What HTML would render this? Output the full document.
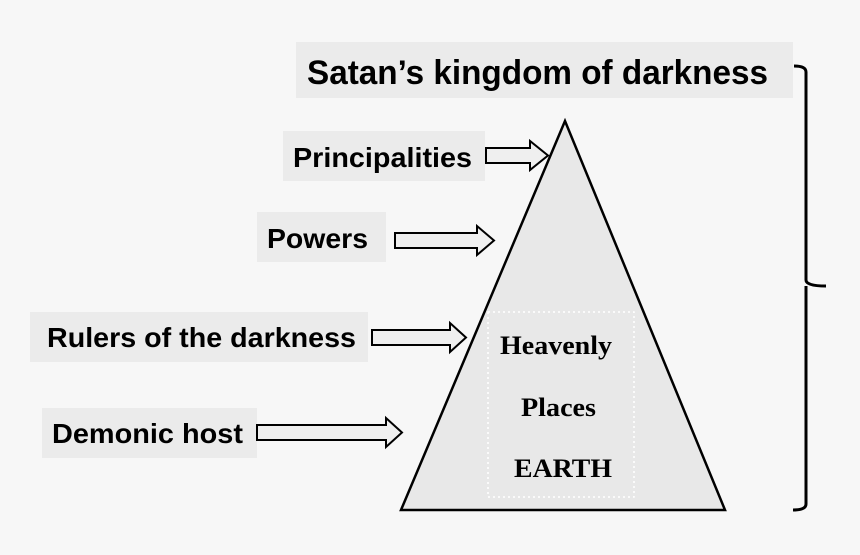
<!DOCTYPE html>
<html><head><meta charset="utf-8"><style>html,body{margin:0;padding:0;background:#f7f7f7}svg{display:block}</style></head>
<body>
<svg width="860" height="555" viewBox="0 0 860 555" xmlns="http://www.w3.org/2000/svg">
<rect width="860" height="555" fill="#f7f7f7"/>
<g fill="#ebebeb">
<rect x="296" y="42" width="497" height="56"/>
<rect x="283" y="131" width="202" height="50"/>
<rect x="257" y="212" width="129" height="50"/>
<rect x="30" y="312" width="338" height="50"/>
<rect x="42" y="408" width="215" height="50"/>
</g>
<polygon points="565,121 401,510 725,510" fill="#e8e8e8" stroke="#000" stroke-width="2.5" stroke-linejoin="miter"/>
<rect x="488" y="312" width="146" height="185" fill="none" stroke="#fff" stroke-width="1.5" stroke-dasharray="2,3"/>
<g fill="#efefef" stroke="#000" stroke-width="2">
<polygon points="486,148 530,148 530,141 548,155.5 530,170 530,163 486,163"/>
<polygon points="395,233 477,233 477,226 494,240.5 477,255 477,248 395,248"/>
<polygon points="372,330 450,330 450,323 466,337.5 450,352 450,345 372,345"/>
<polygon points="257,425 386,425 386,418 402,432.5 386,447 386,440 257,440"/>
</g>
<path d="M794,66 Q806,66 806,72 L806,280 Q806,286 826,286 M806,286 L806,504 Q806,510 793,510" fill="none" stroke="#000" stroke-width="3"/>
<g font-family="Liberation Sans, sans-serif" font-weight="bold" fill="#000">
<text x="307" y="84" font-size="34" textLength="461" lengthAdjust="spacingAndGlyphs">Satan’s kingdom of darkness</text>
<text x="293" y="167" font-size="28" textLength="179" lengthAdjust="spacingAndGlyphs">Principalities</text>
<text x="267" y="248" font-size="28" textLength="101" lengthAdjust="spacingAndGlyphs">Powers</text>
<text x="47" y="347" font-size="28" textLength="309" lengthAdjust="spacingAndGlyphs">Rulers of the darkness</text>
<text x="52" y="443" font-size="28" textLength="191" lengthAdjust="spacingAndGlyphs">Demonic host</text>
</g>
<g font-family="Liberation Serif, serif" font-weight="bold" fill="#000" font-size="26">
<text x="500" y="354" textLength="112" lengthAdjust="spacingAndGlyphs">Heavenly</text>
<text x="521" y="416" textLength="75" lengthAdjust="spacingAndGlyphs">Places</text>
<text x="514" y="477" textLength="98" lengthAdjust="spacingAndGlyphs">EARTH</text>
</g>
</svg>
</body></html>
